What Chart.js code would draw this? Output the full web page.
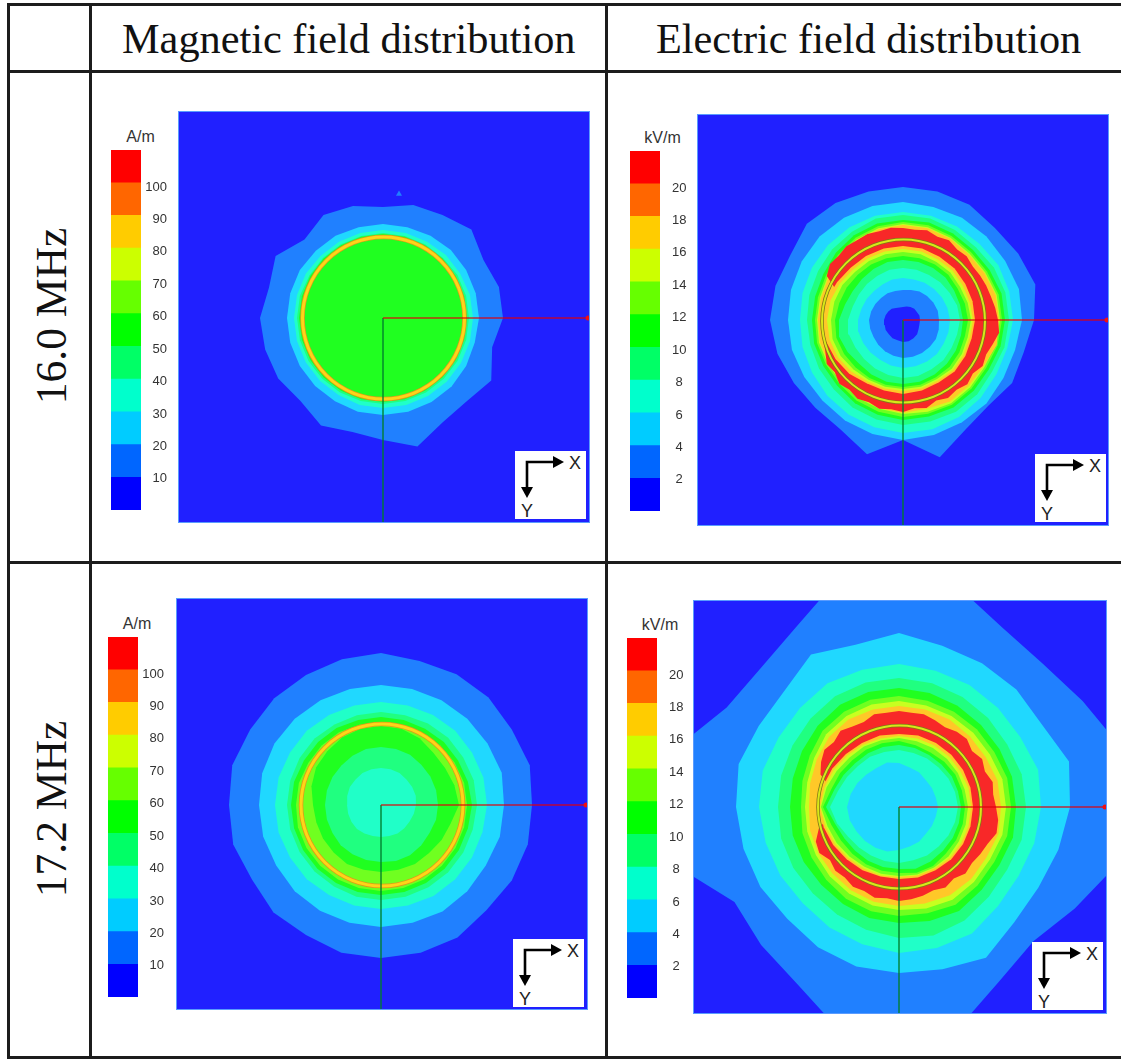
<!DOCTYPE html>
<html>
<head>
<meta charset="utf-8">
<title>Field distribution</title>
<script src="https://cdn.jsdelivr.net/npm/chart.js@4"></script>
<style>
html,body{margin:0;padding:0;background:#fff;overflow:hidden}
#page{position:relative;width:1121px;height:1059px;background:#fff;overflow:hidden;filter:blur(.55px)}
#page canvas{position:absolute;display:block}
.rule{position:absolute;background:#1c1c1c}
.head{position:absolute;font-family:"Liberation Serif",serif;font-size:42.3px;color:#111;white-space:nowrap;line-height:1}
.side{position:absolute;font-family:"Liberation Serif",serif;font-size:43.5px;color:#111;white-space:nowrap;line-height:1;transform:translate(-50%,-50%) rotate(-90deg)}
.unit{position:absolute;font-family:"Liberation Sans",sans-serif;font-size:16px;color:#333;transform:translateX(-50%);white-space:nowrap}
.axes{position:absolute;width:71px;height:68px;background:#fff}
.axes svg{position:absolute;left:0;top:0}
</style>
</head>
<body>
<div id="page"></div>
<script>
// value legends
const magneticTicks = [10,20,30,40,50,60,70,80,90,100]
const electricTicks = [2,4,6,8,10,12,14,16,18,20]
const barColors = ["#0000ff","#0066ff","#00ccff","#00ffcc","#00ff66","#00ff00","#66ff00","#ccff00","#ffcc00","#ff6600","#ff0000"]

// field colours, same scale as the bars but washed out a bit
const cBlue2 = "#2080ff"
const cCyan = "#20d8ff"
const cTeal = "#20ffc8"
const cMint = "#20ff80"
const cGreen = "#20ff20"
const cLime = "#70ff20"
const cYellow = "#c8ff20"
const cOrange = "#ffc828"
const cRed = "#f82828"
const cBack = "#2020ff"

// contour radii, going clockwise from east

// 16.0 MHz magnetic
const m16Blue = [120,113,125,118,120,133,122,118,124,117,121,122,123,118,124,111,119,116,111,117,119,125,116,120]
const m16Cyan = [96,95,96,97,97,97,97,97,96,96,96,96,96,96,96,95,95,94,94,94,95,96,96,96]
const m16Teal = [90,90,90,90,90,90,90,90,89,89,89,89,89,89,89,88,88,88,88,88,88,89,89,90]
const m16Mint = [86,86,86,86,86,86,86,86,86,86,86,86,86,86,85,85,85,85,85,85,85,85,86,86]
const m16Green = [84,84,84,84,84,84,84,84,84,84,84,84,84,84,84,84,84,84,84,84,84,84,84,84]
const m16Speck = [{x:16,y:-124}]

// 16.0 MHz electric
const e16Blue = [131,125,126,121,126,142,120,139,126,124,126,130,133,132,130,136,135,133,133,133,133,130,133,137]
const e16Cyan = [119,116,116,118,118,119,120,118,116,114,114,115,115,116,117,118,118,118,118,117,118,118,118,120]
const e16Teal = [110,108,108,110,112,113,113,111,109,107,105,104,103,104,105,106,107,108,108,108,108,108,110,110]
const e16Mint = [106,105,103,105,106,105,105,103,101,98,97,96,96,97,98,100,102,105,105,105,104,103,105,106]
const e16Green = [102,101,99,100,101,100,100,98,96,93,92,92,91,91,92,95,98,100,100,101,100,99,100,102]
const e16Lime = [99,98,96,97,98,97,97,95,93,90,89,89,88,88,89,92,95,97,98,98,97,96,97,99]
const e16Yellow = [97,96,94,95,96,95,94,92,90,88,87,87,86,86,87,90,93,95,96,96,95,94,95,97]
const e16Orange = [96,97,93,93,94,92,93,91,89,87,86,86,85,85,86,89,92,94,95,95,94,93,94,96]
const e16Red = [95,97,93,90,92,88,91,88,90,87,91,89,92,90,92,89,91,88,90,86,88,84,82,70,70,70,70,70,88,92,91,93,92,93,92,93,92,91,93,90,92,89,90,88,89,90,91,93]
const e16InOrange = [72,71,72,73,72,73,74,73,73,76,78,80,80,79,76,74,74,74,74,74,73,73,72,72]
const e16InYellow = [70,69,70,71,70,71,71,71,71,73,75,76,76,75,73,71,71,71,71,71,70,70,69,69]
const e16InLime = [68,67,68,69,68,69,69,69,69,70,72,73,72,71,70,68,68,68,68,68,67,67,66,67]
const e16InGreen = [65,64,65,66,66,67,67,67,67,67,68,69,68,66,65,64,64,64,64,64,64,64,63,64]
const e16InMint = [60,60,61,62,63,64,64,64,63,62,64,66,64,60,58,58,59,60,60,60,60,60,59,59]
const e16InTeal = [57,56,56,57,57,58,58,57,56,55,55,56,55,52,51,51,51,52,52,52,52,53,54,56]
const e16InCyan = [47,47,47,48,48,48,48,47,46,46,46,46,45,43,42,41,41,42,42,42,43,44,45,46]
const e16InBlue = [36,37,38,38,38,38,38,37,36,35,34,34,34,33,32,31,31,30,30,31,33,34,35,36]
const e16Hole = [17,17,18,20,21,22,22,21,21,20,20,19,19,18,17,16,14,13,13,14,15,16,16,17]

// 17.2 MHz magnetic
const m17Blue = [151,152,151,149,153,153,153,153,150,152,149,153,152,154,151,151,150,151,152,149,151,152,151,154]
const m17Cyan = [123,123,121,122,123,122,122,122,122,122,121,122,122,123,123,122,121,120,120,120,121,122,123,125]
const m17Teal = [106,105,105,105,105,104,104,104,104,105,105,106,106,106,105,105,104,103,103,103,104,105,105,106]
const m17Mint = [96,95,95,95,95,95,95,95,94,94,94,94,94,94,94,94,93,93,93,93,94,95,95,96]
const m17Green = [91,90,90,90,90,90,90,90,90,90,90,90,90,90,89,89,89,88,88,88,88,89,89,90]
const m17Lime = [86,86,86,86,86,86,86,86,86,86,86,86,85,85,84,84,84,83,83,83,83,84,85,86]
const m17InGreen = [78,72,70,68,68,67,67,67,68,67,67,67,68,72,75,76,78,79,79,79,77,74,74,76]
const m17InMint = [57,57,56,57,58,58,57,57,57,57,56,56,56,56,56,56,57,58,58,58,58,57,57,57]
const m17InTeal = [35,34,33,33,33,32,32,32,33,34,34,34,34,35,36,36,37,37,37,37,37,36,36,36]

// 17.2 MHz electric
const e17Blue = [250,225,203,190,201,229,250,231,204,195,190,230,250,230,199,196,207,236,250,228,207,203,212,230]
const e17Cyan = [171,165,161,163,174,168,166,165,162,158,160,161,163,166,162,163,176,168,174,167,166,166,165,176]
const e17Teal = [142,140,138,140,146,146,146,142,139,136,137,138,140,141,139,140,143,142,143,141,141,140,140,144]
const e17Mint = [127,127,125,127,131,133,131,127,124,122,122,122,121,122,123,125,128,129,129,128,127,126,125,127]
const e17Green = [117,118,116,117,120,118,116,115,112,110,110,110,109,110,112,115,118,119,119,118,117,116,116,117]
const e17Lime = [112,112,110,111,113,110,109,108,106,103,101,100,98,100,103,108,110,111,111,110,110,110,110,112]
const e17Yellow = [107,107,105,106,107,105,103,102,100,98,96,95,94,95,98,103,105,106,106,105,105,105,105,107]
const e17Orange = [102,103,101,102,102,100,99,98,96,94,93,92,90,92,95,99,101,101,101,101,101,100,100,102]
const e17Red = [97,100,101,96,94,92,94,90,93,90,92,93,94,92,94,91,92,89,90,87,92,90,83,70,70,70,70,85,90,94,92,96,93,92,96,95,96,95,96,94,92,95,96,92,96,93,97,95]
const e17InOrange = [74,74,74,74,73,73,72,72,73,74,76,78,80,79,77,75,74,74,73,74,74,74,74,74]
const e17InYellow = [72,72,72,72,71,71,70,71,71,72,74,76,79,77,75,73,72,71,71,71,71,71,71,72]
const e17InLime = [69,69,69,70,70,70,69,69,69,70,72,74,78,75,72,70,70,69,69,68,68,68,68,68]
const e17InGreen = [66,66,66,66,68,68,66,66,66,66,67,70,76,70,68,66,66,66,66,64,63,64,65,65]
const e17InMint = [62,62,62,62,63,64,62,62,62,62,63,66,73,67,64,62,62,62,62,61,60,60,61,61]
const e17InTeal = [59,58,57,56,56,55,56,56,56,57,59,64,69,63,60,58,58,57,57,56,56,56,57,58]
const e17InCyan = [39,38,38,38,40,41,43,46,47,48,49,51,52,50,48,46,45,46,44,41,40,38,38,38]

function polygon(radii){
  let pts = []
  for(let i=0;i<=radii.length;i++){
    let a = (i % radii.length) / radii.length * 2 * Math.PI
    let r = radii[i % radii.length]
    pts.push({x:r*Math.cos(a), y:r*Math.sin(a)})
  }
  return pts
}

function addRule(left,top,width,height){
  let d = document.createElement("div")
  d.className = "rule"
  d.style.cssText = `left:${left}px;top:${top}px;width:${width}px;height:${height}px`
  page.appendChild(d)
}

function addText(cls,text,left,top){
  let d = document.createElement("div")
  d.className = cls
  d.textContent = text
  d.style.left = left+"px"
  d.style.top = top+"px"
  page.appendChild(d)
}

function addAxes(left,top){
  let d = document.createElement("div")
  d.className = "axes"
  d.style.left = left+"px"
  d.style.top = top+"px"
  d.innerHTML = `<svg width="71" height="68">
  <path d="M12 36V11H40" fill="none" stroke="#000" stroke-width="2.6"/>
  <path d="M38 5L49 11L38 17Z"/><path d="M6 36L12 47L18 36Z"/>
  <text x="60" y="18" font-family="Liberation Sans" font-size="18" text-anchor="middle" fill="#222">X</text>
  <text x="12" y="66" font-family="Liberation Sans" font-size="18" text-anchor="middle" fill="#222">Y</text>
  </svg>`
  page.appendChild(d)
}

function addCanvas(left,top,width,height){
  let c = document.createElement("canvas")
  c.width = width
  c.height = height
  c.style.cssText = `left:${left}px;top:${top}px;width:${width}px;height:${height}px`
  page.appendChild(c)
  return c
}

function colorBar(left,top,height,ticks,unit,align,pad,axisWidth,unitShift){
  let step = ticks[0]
  let c = addCanvas(left,top,30+axisWidth,height)
  new Chart(c,{
    type:"bar",
    data:{
      labels:[unit],
      datasets:barColors.map(col=>({data:[step],backgroundColor:col,borderWidth:0,barPercentage:1,categoryPercentage:1,stack:"s",yAxisID:"y"}))
    },
    options:{
      responsive:false,
      animation:false,
      devicePixelRatio:1,
      plugins:{legend:{display:false},tooltip:{enabled:false}},
      layout:{padding:0,autoPadding:false},
      scales:{
        x:{display:false,stacked:true},
        y:{display:false,stacked:true,min:0,max:step*11},
        // the printed numbers sit a little below the colour boundaries
        yLabels:{
          position:"right",min:step*0.04,max:step*11.14,
          afterBuildTicks:s=>{s.ticks=ticks.map(v=>({value:v}))},
          afterFit:s=>{s.width=axisWidth;s.paddingTop=0;s.paddingBottom=0},
          grid:{display:false,drawTicks:false,tickLength:0},border:{display:false},
          ticks:{
            autoSkip:false,padding:pad,color:"#333",crossAlign:align,
            font:{family:"Liberation Sans",size:13}
          }
        }
      }
    }
  })
  addText("unit",unit,left+unitShift,top-22)
}

function fieldPlot(p){
  let c = addCanvas(p.left,p.top,p.size,p.size)
  c.style.outline = "1px solid #5a9cff"
  c.style.background = cBack
  let datasets = p.levels.map(l=>({
    data:polygon(l[1]),
    showLine:true,borderWidth:0,pointRadius:0,tension:0,
    fill:"shape",backgroundColor:l[0],borderColor:l[0]
  }))
  if(p.speck){
    datasets.push({data:p.speck,showLine:false,pointStyle:"triangle",pointRadius:3.5,pointBackgroundColor:cBlue2,pointBorderWidth:0})
  }
  // coil ring
  datasets.push({data:[{x:p.ring[0],y:p.ring[1]}],pointRadius:p.ring[2],pointBackgroundColor:"rgba(0,0,0,0)",pointBorderColor:p.ringEdge,pointBorderWidth:p.ringWidth+1.5,showLine:false})
  datasets.push({data:[{x:p.ring[0],y:p.ring[1]}],pointRadius:p.ring[2],pointBackgroundColor:"rgba(0,0,0,0)",pointBorderColor:p.ringColor,pointBorderWidth:p.ringWidth,showLine:false})
  // probe lines
  datasets.push({data:[{x:0,y:0},{x:0,y:p.yMax}],showLine:true,borderColor:"rgba(0,125,45,.9)",borderWidth:1.5,pointRadius:0})
  datasets.push({data:[{x:0,y:0},{x:p.xMax-1,y:0}],showLine:true,borderColor:"rgba(225,0,10,.8)",borderWidth:1.5,pointRadius:[0,2.5],pointBackgroundColor:"#f01010",pointBorderWidth:0})
  datasets.reverse()
  new Chart(c,{
    type:"scatter",
    data:{datasets:datasets},
    options:{
      responsive:false,
      animation:false,
      devicePixelRatio:1,
      plugins:{legend:{display:false},tooltip:{enabled:false}},
      layout:{padding:0,autoPadding:false},
      scales:{
        x:{display:false,min:p.xMin,max:p.xMax},
        y:{display:false,min:p.yMin,max:p.yMax,reverse:true}
      }
    }
  })
  addAxes(p.axes[0],p.axes[1])
}

const page = document.getElementById("page")

// table frame
addRule(7,3,1114,3)
addRule(7,69.5,1114,3)
addRule(7,560.5,1114,3)
addRule(7,1056,1114,3)
addRule(6.5,3,3,1056)
addRule(89,3,3,1056)
addRule(605,3,3,1056)

addText("head","Magnetic field distribution",122,18)
addText("head","Electric field distribution",656,18)
addText("side","16.0 MHz",52,316)
addText("side","17.2 MHz",52,809)

colorBar(110.5,150,360,magneticTicks,"A/m","far",0,26,30)
colorBar(629.5,151,360,electricTicks,"kV/m","center",12,40,33)
colorBar(108,637,360,magneticTicks,"A/m","far",0,26,29)
colorBar(627,638,360,electricTicks,"kV/m","center",12,40,33)

fieldPlot({left:178.5,top:112,size:410,xMin:-204,xMax:206,yMin:-206,yMax:204,ring:[0.5,0,81],ringColor:"#ffd418",ringEdge:"#e09a18",ringWidth:3,axes:[515,451],speck:m16Speck,
levels:[[cBlue2,m16Blue],[cCyan,m16Cyan],[cTeal,m16Teal],[cMint,m16Mint],[cGreen,m16Green]]})

fieldPlot({left:698,top:115,size:410,xMin:-205,xMax:205,yMin:-205,yMax:205,ring:[0.5,1,81.5],ringColor:"#d8e818",ringEdge:"#807818",ringWidth:2,axes:[1035,454],
levels:[[cBlue2,e16Blue],[cCyan,e16Cyan],[cTeal,e16Teal],[cMint,e16Mint],[cGreen,e16Green],[cLime,e16Lime],[cYellow,e16Yellow],[cOrange,e16Orange],[cRed,e16Red],[cOrange,e16InOrange],[cYellow,e16InYellow],[cLime,e16InLime],[cGreen,e16InGreen],[cMint,e16InMint],[cTeal,e16InTeal],[cCyan,e16InCyan],[cBlue2,e16InBlue],[cBack,e16Hole]]})

fieldPlot({left:177,top:599,size:410,xMin:-204,xMax:206,yMin:-206,yMax:204,ring:[1,0,81],ringColor:"#ffd418",ringEdge:"#e09a18",ringWidth:3,axes:[513,939],
levels:[[cBlue2,m17Blue],[cCyan,m17Cyan],[cTeal,m17Teal],[cMint,m17Mint],[cGreen,m17Green],[cLime,m17Lime],[cGreen,m17InGreen],[cMint,m17InMint],[cTeal,m17InTeal]]})

fieldPlot({left:694,top:601,size:412,xMin:-205,xMax:207,yMin:-206,yMax:206,ring:[0.5,0,81.5],ringColor:"#d8e818",ringEdge:"#807818",ringWidth:2,axes:[1032,942],
levels:[[cBlue2,e17Blue],[cCyan,e17Cyan],[cTeal,e17Teal],[cMint,e17Mint],[cGreen,e17Green],[cLime,e17Lime],[cYellow,e17Yellow],[cOrange,e17Orange],[cRed,e17Red],[cOrange,e17InOrange],[cYellow,e17InYellow],[cLime,e17InLime],[cGreen,e17InGreen],[cMint,e17InMint],[cTeal,e17InTeal],[cCyan,e17InCyan]]})
</script>
</body>
</html>
